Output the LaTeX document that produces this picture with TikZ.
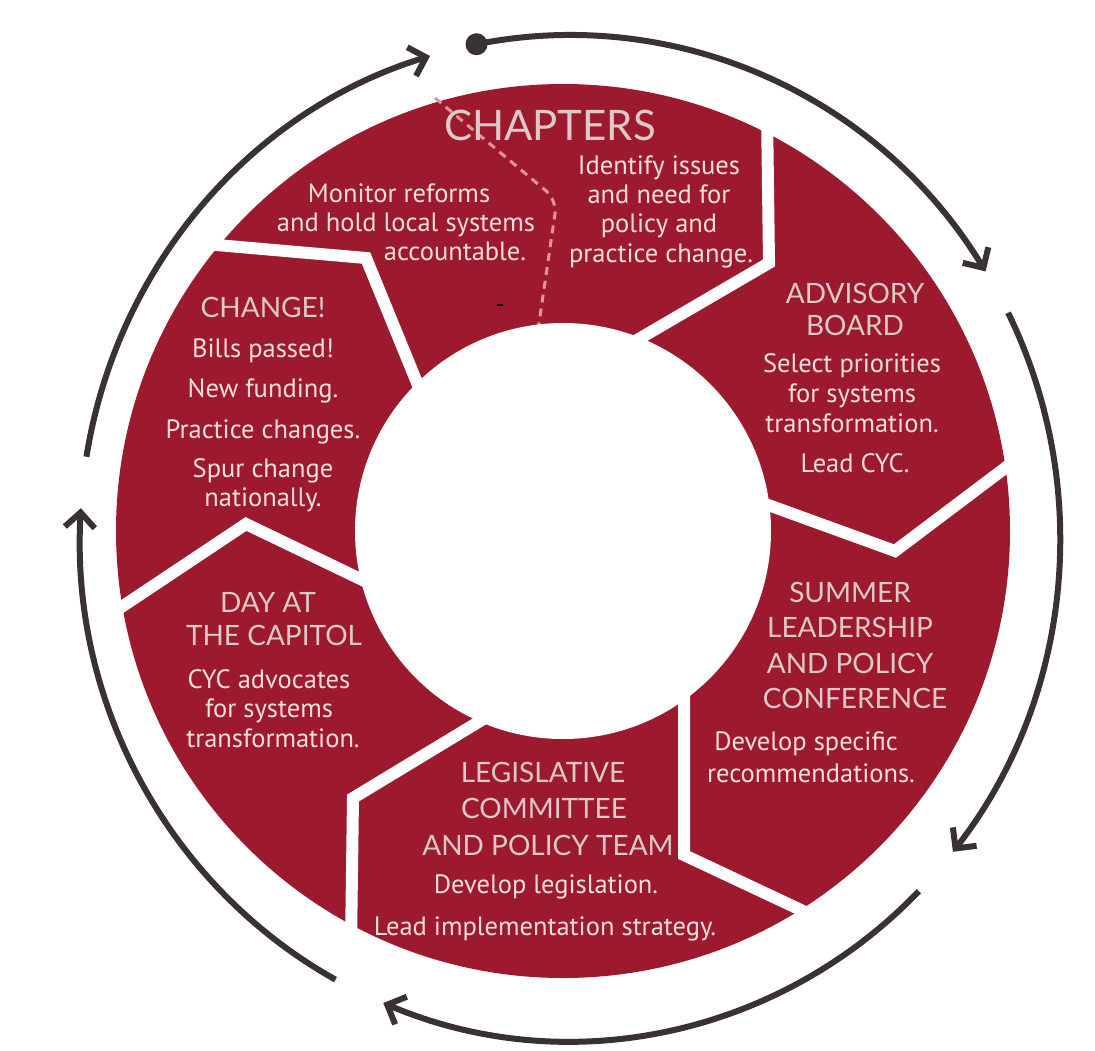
\documentclass[tikz,border=0pt]{standalone}
\usepackage{fontspec}
\setmainfont{PT Sans}
\newfontfamily\hfont{Lato}
\newfontfamily\bfont{PT Sans}
\usetikzlibrary{arrows.meta,calc}
\definecolor{cycred}{HTML}{9D1A2E}
\definecolor{hcol}{HTML}{DCC9C9}
\definecolor{bcol}{HTML}{F7DFDB}
\definecolor{ringcol}{HTML}{3A3133}
\definecolor{dashcol}{HTML}{E39494}
\begin{document}
\begin{tikzpicture}[x=1pt,y=1pt,
  gap/.style={white,line width=12pt,line join=miter,line cap=butt},
  ringarc/.style={ringcol,line width=6pt,line cap=butt,-{Straight Barb[length=15pt,width=30pt]}},
  head/.style={anchor=base,text=hcol,font=\hfont\fontsize{28}{32}\selectfont,inner sep=0pt},
  bighead/.style={anchor=base,text=hcol,font=\hfont\fontsize{42}{48}\selectfont,inner sep=0pt},
  body/.style={anchor=base,text=bcol,font=\bfont\fontsize{26.5}{31}\selectfont,inner sep=0pt}]
\fill[white] (0,0) rectangle (1095,-1050);
\useasboundingbox (0,0) rectangle (1095,-1050);
\coordinate (O) at (563,-531);
\coordinate (R) at (570,-538);
% red disk
\fill[cycred] (O) circle (447);
% dashed divider in CHAPTERS
\draw[dashcol,line width=3pt,dash pattern=on 8pt off 6pt,rounded corners=14pt]
  (435,-98) -- (557,-200) -- (538,-330);
% white chevron gaps
\draw[gap] (767,-110) -- (769,-263) -- (625,-347);
\draw[gap] (760,-502) -- (895,-551) -- (1017,-459);
\draw[gap] (684,-690) -- (684,-855) -- (818,-918);
\draw[gap] (490,-715) -- (353,-798) -- (351,-945);
\draw[gap] (375,-586) -- (246,-524) -- (108,-616);
\draw[gap] (420,-390) -- (366,-258) -- (205,-244);
% inner circle
\fill[white] (O) circle (208);
% small mark
\draw[black,line width=1.2pt] (497,-305) -- (503,-305);
% outer cycle arrows
\coordinate (dot) at ($(R)+(101:490 and 503)$);
\coordinate (bS) at ($(R)+(26.6:490 and 503)$);
\coordinate (cS) at ($(R)+(-44.6:490 and 503)$);
\coordinate (dS) at ($(R)+(-118.6:490 and 503)$);
\coordinate (eS) at ($(R)+(170.7:490 and 503)$);
\draw[ringarc] (dot) arc[start angle=101,end angle=32,x radius=490,y radius=503];
\draw[ringarc] (bS) arc[start angle=26.6,end angle=-38.6,x radius=490,y radius=503];
\draw[ringarc] (cS) arc[start angle=-44.6,end angle=-112.4,x radius=490,y radius=503];
\draw[ringarc] (dS) arc[start angle=-118.6,end angle=-183.4,x radius=490,y radius=503];
\draw[ringarc] (eS) arc[start angle=170.7,end angle=106.6,x radius=490,y radius=503];
\fill[ringcol] (dot) circle (11);
% CHAPTERS
\node[bighead] (ch) at (550,-140) {CHAPTERS};
\node[body] (m1) at (399,-202) {Monitor reforms};
\node[body] (m2) at (406,-231) {and hold local systems};
\node[body] (m3) at (455,-260) {accountable.};
\node[body] (i1) at (659,-174) {Identify issues};
\node[body] (i2) at (659,-203) {and need for};
\node[body] (i3) at (659,-232) {policy and};
\node[body] (i4) at (661,-262) {practice change.};
% ADVISORY BOARD
\node[head] (a1) at (855,-303) {ADVISORY};
\node[head] (a2) at (855,-335) {BOARD};
\node[body] (a3) at (852,-372) {Select priorities};
\node[body] (a4) at (852,-402) {for systems};
\node[body] (a5) at (852,-432) {transformation.};
\node[body] (a6) at (855,-472) {Lead CYC.};
% SUMMER
\node[head] (s1) at (850,-602) {SUMMER};
\node[head] (s2) at (850,-637) {LEADERSHIP};
\node[head] (s3) at (850,-673) {AND POLICY};
\node[head] (s4) at (855,-708) {CONFERENCE};
\node[body] (s5) at (806,-750) {Develop specific};
\node[body] (s6) at (811,-782) {recommendations.};
% LEGISLATIVE
\node[head] (l1) at (543,-782) {LEGISLATIVE};
\node[head] (l2) at (544,-818) {COMMITTEE};
\node[head] (l3) at (548,-855) {AND POLICY TEAM};
\node[body] (l4) at (546,-893) {Develop legislation.};
\node[body] (l5) at (545,-935) {Lead implementation strategy.};
% DAY AT THE CAPITOL
\node[head] (d1) at (268,-612) {DAY AT};
\node[head] (d2) at (274,-645) {THE CAPITOL};
\node[body] (d3) at (269,-688) {CYC advocates};
\node[body] (d4) at (269,-717) {for systems};
\node[body] (d5) at (273,-747) {transformation.};
% CHANGE!
\node[head] (c1) at (263,-317) {CHANGE!};
\node[body] (c2) at (263,-357) {Bills passed!};
\node[body] (c3) at (263,-397) {New funding.};
\node[body] (c4) at (263,-438) {Practice changes.};
\node[body] (c5) at (263,-477) {Spur change};
\node[body] (c6) at (263,-506) {nationally.};
\end{tikzpicture}
\end{document}
